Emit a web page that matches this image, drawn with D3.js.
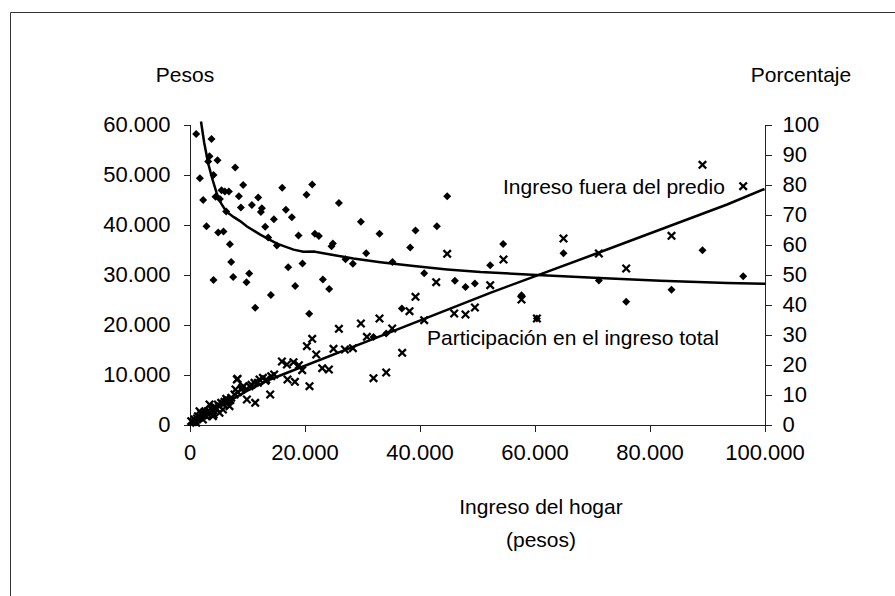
<!DOCTYPE html>
<html>
<head>
<meta charset="utf-8">
<script src="https://cdn.jsdelivr.net/npm/d3@7"></script>
<style>
  body { margin: 0; background: #fff; }
  text { font-family: "Liberation Sans", Arial, sans-serif; fill: #000; }
</style>
</head>
<body>
<div id="chart"></div>
<script>
// household income (pesos) vs participation of off-farm income (%) -> diamonds
const shareX = [1165,3826,3478,3252,4870,7948,1809,4174,2383,4522,5565,6157,6852,5287,9339,8591,8939,6383,10852,11948,
  12591,12417,16122,21339,20348,16765,17809,14678,13165,2957,4991,5913,13687,15200,7026,18957,21809,22504,25983,29809,
  33043,24939,24696,30730,27130,28417,35304,38383,39304,43026,44817,40817,46157,48000,49635,7252,4174,7600,10383,9913,
  17165,19652,18383,14157,23200,24296,11426,20817,36939,32000,34209,54557,52296,57739,60417,65043,71200,75948,83826,89217,96296];
const sharePct = [96.8,95.2,89.4,87.7,88.1,85.7,82.1,83.2,74.8,75.9,78.1,77.7,77.7,75.2,79.8,76.1,72.3,71.0,73.2,75.7,
  72.1,70.8,78.9,80.0,76.6,71.6,69.1,68.4,65.9,66.1,64.0,64.3,62.3,59.7,60.1,63.0,63.6,62.8,73.8,67.6,
  63.6,60.3,59.4,57.1,55.1,53.6,54.2,59.0,64.7,66.1,76.1,50.4,47.9,45.8,47.0,54.2,48.2,49.2,50.3,47.4,
  52.4,53.7,46.2,43.2,48.3,45.2,38.9,36.9,38.7,29.2,30.3,60.2,53.1,43.1,35.3,57.1,48.0,40.9,44.9,58.1,49.4];

// household income vs off-farm income (pesos) -> crosses
const offX = [44817,42904,39304,38261,40817,46035,48000,49635,33043,29809,25983,35252,30852,20417,21339,22035,25043,27026,28417,36991,
  32000,34209,16070,16939,18087,19026,19600,23078,24243,20870,17043,18330,14730,8348,12174,13217,10783,9165,8000,14035,
  9983,11426,4174,89217,96296,65043,83826,71200,75948,54609,52296,57739,60417,
  296,870,1461,2035,2609,3200,3774,4348,4939,5513,6087,6678,7252,7826,8417,8991,10435,11896,13339,14209,
  1165,2330,4070,5809,1739,3478,6383,6957,2904,5217,11304,12765,9391,8243,
  600,1000,1300,1700,2300,2600,3000,3400,3900,4600,5100,5900,6500,7100];
const offPesos = [34140,28460,25540,22660,20860,22200,22000,23400,21200,20200,19140,19200,17540,15660,17140,14000,15140,15000,15260,14340,
  9260,10400,12600,12000,12460,11860,10860,11260,11000,7660,9000,8540,10000,9140,9000,8740,7940,7340,7000,6000,
  5000,4340,2000,51940,47660,37200,37740,34200,31200,33000,27860,25000,21200,
  660,1000,1660,2200,2460,2660,3140,3540,4000,4340,4540,4860,5340,6000,6460,7000,7660,8340,9000,9660,
  340,1000,1660,3000,2660,4000,5140,3660,1660,2340,8340,9340,7660,9000,
  500,700,1200,1400,1800,2100,2300,2700,3000,3300,3700,4100,4600,4900];

// fitted curves
const shareCurveX = [2000,2550,3250,3950,4750,5550,6400,7650,8800,10000,12300,15200,18100,19800,21600,24500,28500,33200,39000,44800,50600,58700,70300,81900,93500,100200];
const shareCurvePct = [101,94,87,82,77,73.5,71,69.2,67.8,66,63.3,60.3,58.3,57.6,57.7,56.7,55.3,54.1,52.8,51.7,50.8,50,48.9,47.9,47.2,46.9];
const offCurveX = [300,1860,5200,10000,14000,15100,33200,52300,70300,81900,93500,100000];
const offCurvePesos = [400,1000,3540,6740,9000,9500,17670,26340,34000,39000,44000,47100];

const xTicks = [0,20000,40000,60000,80000,100000];
const pesoTicks = [0,10000,20000,30000,40000,50000,60000];
const pctTicks = [0,10,20,30,40,50,60,70,80,90,100];

const width = 895, height = 596;
const locale = d3.formatLocale({decimal: ",", thousands: ".", grouping: [3], currency: ["$", ""]});
const fmt = locale.format(",");

const svg = d3.select("#chart").append("svg")
    .attr("width", width)
    .attr("height", height);

// outer frame (cropped: only top and left edges show)
svg.append("path")
    .attr("d", `M10.5,${height} V12.5 H${width}`)
    .attr("fill", "none")
    .attr("stroke", "#333");

const x = d3.scaleLinear().domain([0, 100000]).range([189.5, 764.5]);
const yPeso = d3.scaleLinear().domain([0, 60000]).range([424.5, 124.5]);
const yPct = d3.scaleLinear().domain([0, 100]).range([424.5, 124.5]);

function styleAxis(g) {
  g.selectAll("path, line").attr("stroke", "#222").attr("shape-rendering", "crispEdges");
  g.selectAll("text").style("font-size", "22px").attr("fill", "#000");
}

svg.append("g")
    .attr("transform", "translate(0,424.5)")
    .call(d3.axisBottom(x).tickValues(xTicks).tickFormat(fmt).tickSizeInner(7).tickSizeOuter(0).tickPadding(8))
    .call(styleAxis)
    .call(g => g.selectAll("text").attr("dy", "0.95em"));

svg.append("g")
    .attr("transform", "translate(189.5,0)")
    .call(d3.axisLeft(yPeso).tickValues(pesoTicks).tickFormat(fmt).tickSizeInner(6).tickSizeOuter(0).tickPadding(13))
    .call(styleAxis);

svg.append("g")
    .attr("transform", "translate(764.5,0)")
    .call(d3.axisRight(yPct).tickValues(pctTicks).tickSizeInner(7).tickSizeOuter(0).tickPadding(11))
    .call(styleAxis);

// axis titles
svg.append("text").attr("x", 185).attr("y", 82).attr("text-anchor", "middle")
    .style("font-size", "21px").text("Pesos");
svg.append("text").attr("x", 801).attr("y", 82).attr("text-anchor", "middle")
    .style("font-size", "21px").text("Porcentaje");
svg.append("text").attr("x", 541).attr("y", 514).attr("text-anchor", "middle")
    .style("font-size", "21px").text("Ingreso del hogar");
svg.append("text").attr("x", 541).attr("y", 547).attr("text-anchor", "middle")
    .style("font-size", "21px").text("(pesos)");

// markers
const diamond = d3.symbol(d3.symbolSquare, 32);
svg.append("g")
  .selectAll("path")
  .data(shareX.map((d, i) => [d, sharePct[i]]))
  .join("path")
    .attr("d", diamond)
    .attr("transform", d => `translate(${x(d[0])},${yPct(d[1])}) rotate(45)`)
    .attr("fill", "#000");

const cross = d3.symbol(d3.symbolX, 38);
svg.append("g")
  .selectAll("path")
  .data(offX.map((d, i) => [d, offPesos[i]]))
  .join("path")
    .attr("d", cross)
    .attr("transform", d => `translate(${x(d[0])},${yPeso(d[1])})`)
    .attr("fill", "none")
    .attr("stroke", "#000")
    .attr("stroke-width", 2.3);

// trend curves
svg.append("path")
    .datum(shareCurveX.map((d, i) => [d, shareCurvePct[i]]))
    .attr("fill", "none")
    .attr("stroke", "#000")
    .attr("stroke-width", 2.5)
    .attr("d", d3.line().x(d => x(d[0])).y(d => yPct(d[1])));

svg.append("path")
    .datum(offCurveX.map((d, i) => [d, offCurvePesos[i]]))
    .attr("fill", "none")
    .attr("stroke", "#000")
    .attr("stroke-width", 2.5)
    .attr("d", d3.line().x(d => x(d[0])).y(d => yPeso(d[1])));

// series labels
svg.append("text").attr("x", 503).attr("y", 194)
    .style("font-size", "21px").text("Ingreso fuera del predio");
svg.append("text").attr("x", 427).attr("y", 345)
    .style("font-size", "21px").text("Participación en el ingreso total");
</script>
</body>
</html>
